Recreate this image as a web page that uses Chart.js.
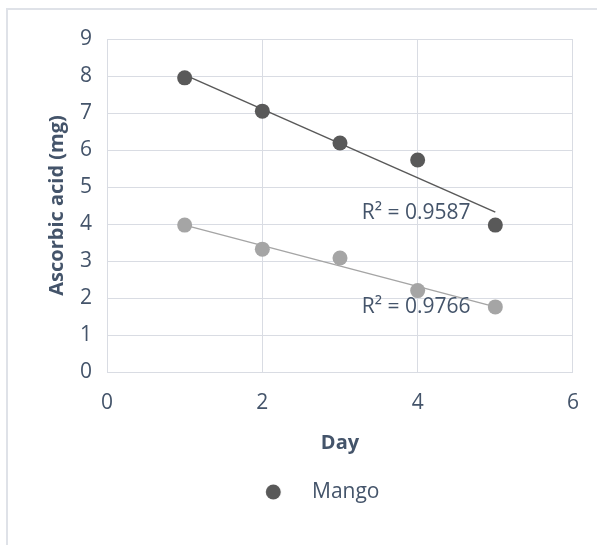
<!DOCTYPE html>
<html>
<head>
<meta charset="utf-8">
<script src="https://cdn.jsdelivr.net/npm/chart.js@4/dist/chart.umd.min.js"></script>
<style>
  html, body { margin: 0; padding: 0; background: #ffffff; width: 597px; height: 545px; overflow: hidden; }
  #frame { position: absolute; left: 6px; top: 8px; width: 640px; height: 600px; border: 2px solid #dfe2e8; box-sizing: border-box; }
  #c { position: absolute; left: 0; top: 0; }
</style>
</head>
<body>
<div id="frame"></div>
<canvas id="c" width="597" height="545"></canvas>
<script>
// ---- data ----
const days = [1, 2, 3, 4, 5];
const mangoValues = [7.95, 7.05, 6.19, 5.73, 3.97];
const series2Values = [3.97, 3.32, 3.08, 2.20, 1.76];
const trendDays = [1, 5];
const mangoTrend = [8.03, 4.32];
const series2Trend = [3.97, 1.76];
const seriesNames = ['Mango', ''];
const r2Labels = ['R\u00B2 = 0.9587', 'R\u00B2 = 0.9766'];
const xTickValues = [0, 2, 4, 6];
const yTickValues = [0, 1, 2, 3, 4, 5, 6, 7, 8, 9];

// ---- styles ----
const TEXT = '#44546a';
const GRID = '#d9dce3';
const DARK = '#595959';
const LIGHT = '#a5a5a5';
const FONT = "'Open Sans', sans-serif";

const toPts = (xs, ys) => xs.map((x, i) => ({ x: x, y: ys[i] }));

// legend marker image (circle offset to the left of the text)
const legendImg = document.createElement('canvas');
legendImg.width = 74; legendImg.height = 16;
(function () {
  const g = legendImg.getContext('2d');
  g.fillStyle = DARK;
  g.beginPath();
  g.arc(9.25, 8, 7.5, 0, Math.PI * 2);
  g.fill();
})();

const r2Plugin = {
  id: 'r2labels',
  afterDatasetsDraw(chart, args, opts) {
    const { ctx, scales } = chart;
    ctx.save();
    ctx.font = opts.font;
    ctx.fillStyle = opts.color;
    ctx.textAlign = 'center';
    ctx.textBaseline = 'middle';
    opts.anchors.forEach((a, i) => {
      ctx.fillText(r2Labels[i], scales.x.getPixelForValue(a.x), scales.y.getPixelForValue(a.y));
    });
    ctx.restore();
  }
};

new Chart(document.getElementById('c'), {
  type: 'scatter',
  data: {
    datasets: [
      { label: seriesNames[0], data: toPts(days, mangoValues), backgroundColor: DARK, borderColor: DARK,
        pointRadius: 7.5, pointHoverRadius: 7.5, borderWidth: 0, order: 0 },
      { label: seriesNames[1], data: toPts(days, series2Values), backgroundColor: LIGHT, borderColor: LIGHT,
        pointRadius: 7.5, pointHoverRadius: 7.5, borderWidth: 0, order: 0 },
      { label: 'trend1', type: 'line', data: toPts(trendDays, mangoTrend), borderColor: DARK, borderWidth: 1.5,
        pointRadius: 0, showLine: true, fill: false, order: 1 },
      { label: 'trend2', type: 'line', data: toPts(trendDays, series2Trend), borderColor: LIGHT, borderWidth: 1.5,
        pointRadius: 0, showLine: true, fill: false, order: 1 }
    ]
  },
  options: {
    responsive: false,
    animation: false,
    events: [],
    layout: { padding: { left: 0, right: 24, top: 39, bottom: 32.5 } },
    scales: {
      x: {
        type: 'linear', min: 0, max: 6,
        afterBuildTicks: (s) => { s.ticks = xTickValues.map(v => ({ value: v })); },
        afterFit: (s) => { s.height = 99.5; },
        grid: { color: GRID, lineWidth: 1, drawTicks: false },
        border: { color: GRID, width: 1 },
        ticks: { color: TEXT, font: { family: FONT, size: 21 }, padding: 18 },
        title: { display: true, text: 'Day', color: TEXT, font: { family: FONT, size: 20, weight: 'bold' },
                 padding: { top: 0, bottom: 16.5 } }
      },
      y: {
        type: 'linear', min: 0, max: 9,
        afterBuildTicks: (s) => { s.ticks = yTickValues.map(v => ({ value: v })); },
        afterFit: (s) => { s.width = 107; },
        grid: { color: GRID, lineWidth: 1, drawTicks: false },
        border: { color: GRID, width: 1 },
        ticks: { color: TEXT, font: { family: FONT, size: 21 }, padding: 15 },
        title: { display: true, text: 'Ascorbic acid (mg)', color: TEXT, font: { family: FONT, size: 20, weight: 'bold' },
                 padding: { top: 45.5, bottom: 0 } }
      }
    },
    plugins: {
      tooltip: { enabled: false },
      legend: {
        display: true,
        position: 'bottom',
        fullSize: false,
        labels: {
          filter: (item) => item.datasetIndex === 0,
          usePointStyle: true,
          pointStyle: legendImg,
          boxWidth: 1,
          padding: 10,
          color: TEXT,
          font: { family: FONT, size: 21 }
        }
      },
      r2labels: {
        font: "21px 'Open Sans', sans-serif",
        color: TEXT,
        anchors: [{ x: 3.98, y: 4.3 }, { x: 3.98, y: 1.76 }]
      }
    }
  },
  plugins: [r2Plugin]
});
</script>
</body>
</html>
